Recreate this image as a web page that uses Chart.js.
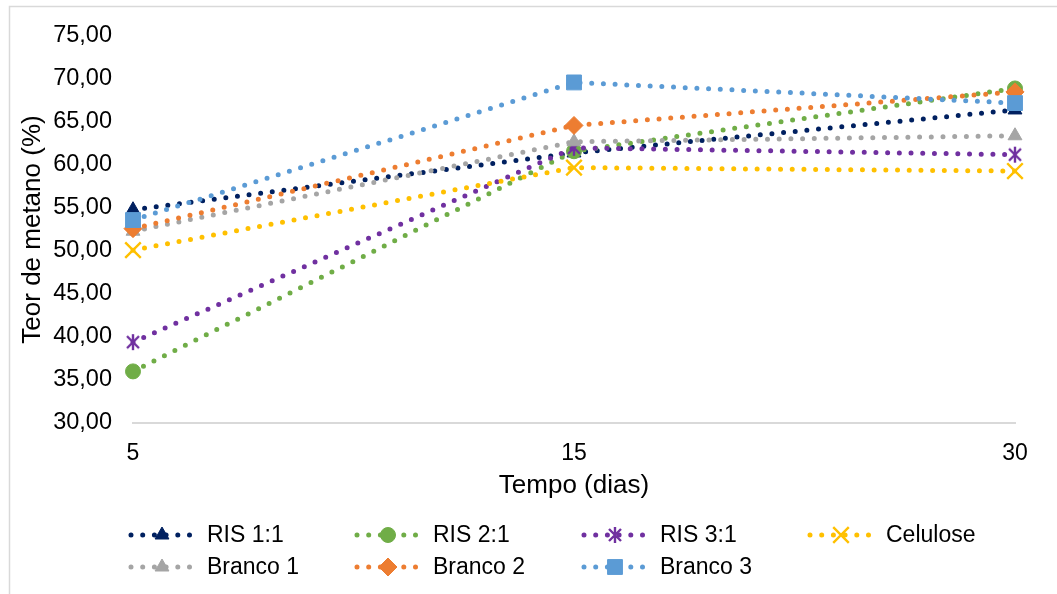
<!DOCTYPE html>
<html>
<head>
<meta charset="utf-8">
<script src="https://cdn.jsdelivr.net/npm/chart.js@4/dist/chart.umd.min.js"></script>
<style>
  html, body { margin: 0; padding: 0; background: #fff; }
  #wrap { width: 1057px; height: 594px; position: relative; }
</style>
</head>
<body>
<div id="wrap"><canvas id="c" width="1057" height="594"></canvas></div>
<script>
// ---- data ----
const categories = ['5', '15', '30'];
const seriesNames = ['RIS 1:1', 'RIS 2:1', 'RIS 3:1', 'Celulose', 'Branco 1', 'Branco 2', 'Branco 3'];
const ris11 = [54.8, 61.4, 66.4];
const ris21 = [36.0, 61.6, 68.9];
const ris31 = [39.4, 62.0, 61.2];
const celulose = [50.1, 59.7, 59.3];
const branco1 = [52.3, 62.7, 63.4];
const branco2 = [52.6, 64.6, 68.5];
const branco3 = [53.6, 69.6, 67.2];
const yTitle = 'Teor de metano (%)';
const xTitle = 'Tempo (dias)';

// ---- styles ----
const FONT = '"Liberation Sans", Arial, sans-serif';
function asteriskImage(color) {
  const c = document.createElement('canvas');
  c.width = 18; c.height = 18;
  const g = c.getContext('2d');
  g.strokeStyle = color; g.lineWidth = 2.4; g.lineCap = 'butt';
  g.beginPath();
  g.moveTo(9, 1); g.lineTo(9, 17);
  g.moveTo(3, 3); g.lineTo(15, 15);
  g.moveTo(15, 3); g.lineTo(3, 15);
  g.stroke();
  return c;
}
const styles = [
  { color: '#002060', pointStyle: 'triangle', radius: 8, pbw: 1 },
  { color: '#70AD47', pointStyle: 'circle', radius: 7.5, pbw: 1 },
  { color: '#7030A0', pointStyle: asteriskImage('#7030A0'), radius: 9, pbw: 1 },
  { color: '#FFC000', pointStyle: 'crossRot', radius: 11, pbw: 2.4 },
  { color: '#A5A5A5', pointStyle: 'triangle', radius: 8, pbw: 1 },
  { color: '#ED7D31', pointStyle: 'rectRot', radius: 9, pbw: 1 },
  { color: '#5B9BD5', pointStyle: 'rect', radius: 10.5, pbw: 1 }
];
const values = [ris11, ris21, ris31, celulose, branco1, branco2, branco3];

const datasets = seriesNames.map((name, i) => ({
  label: name,
  data: values[i],
  borderColor: styles[i].color,
  backgroundColor: styles[i].color,
  borderWidth: 5,
  borderDash: [0, 11.7],
  borderCapStyle: 'round',
  tension: 0,
  pointStyle: styles[i].pointStyle,
  pointRadius: styles[i].radius,
  pointHoverRadius: styles[i].radius,
  pointBorderWidth: styles[i].pbw,
  pointBackgroundColor: styles[i].color,
  pointBorderColor: styles[i].color,
  order: 10 - i
}));

// legend layout (columns / rows)
const legendCols = [129, 355, 582, 808];
const legendRows = [535, 567];

const customLegend = {
  id: 'customLegend',
  beforeDraw(chart) {
    const ctx = chart.ctx;
    ctx.save();
    ctx.fillStyle = '#fff';
    ctx.fillRect(0, 0, chart.width, chart.height);
    ctx.strokeStyle = '#D9D9D9';
    ctx.lineWidth = 1.5;
    ctx.strokeRect(9.5, 6.5, chart.width + 20, chart.height + 20);
    ctx.restore();
  },
  afterDraw(chart) {
    const ctx = chart.ctx;
    ctx.save();
    chart.data.datasets.forEach((ds, i) => {
      const col = i % 4, row = Math.floor(i / 4);
      const x0 = legendCols[col];
      const y = legendRows[row];
      ctx.save();
      ctx.strokeStyle = ds.borderColor;
      ctx.lineWidth = 5;
      ctx.lineCap = 'round';
      ctx.setLineDash([0, 11.7]);
      ctx.beginPath();
      ctx.moveTo(x0 + 2, y);
      ctx.lineTo(x0 + 66, y);
      ctx.stroke();
      ctx.restore();
      ctx.save();
      ctx.fillStyle = ds.pointBackgroundColor;
      ctx.strokeStyle = ds.pointBorderColor;
      ctx.lineWidth = ds.pointBorderWidth;
      Chart.helpers.drawPoint(ctx, {
        pointStyle: ds.pointStyle,
        radius: ds.pointRadius,
        borderWidth: ds.pointBorderWidth,
        rotation: 0
      }, x0 + 33, y);
      ctx.restore();
      ctx.fillStyle = '#000';
      ctx.font = '23px ' + FONT;
      ctx.textBaseline = 'middle';
      ctx.textAlign = 'left';
      ctx.fillText(ds.label, x0 + 78, y + 1);
    });
    ctx.restore();
  }
};

new Chart(document.getElementById('c'), {
  type: 'line',
  data: { labels: categories, datasets },
  options: {
    responsive: false,
    animation: false,
    events: [],
    layout: { padding: { left: 0, right: 42, top: 36, bottom: 86 } },
    plugins: { legend: { display: false }, tooltip: { enabled: false } },
    scales: {
      x: {
        type: 'category',
        offset: false,
        grid: { display: false, drawTicks: false },
        border: { display: true, color: '#D9D9D9', width: 2 },
        ticks: { color: '#000', font: { family: FONT, size: 23 }, padding: 17, maxRotation: 0 },
        title: { display: true, text: xTitle, color: '#000', font: { family: FONT, size: 26 }, padding: { top: 0, bottom: 7 } },
        afterFit(scale) { scale.height = 85; }
      },
      y: {
        min: 30, max: 75,
        grid: { display: false, drawTicks: false },
        border: { display: false },
        ticks: {
          stepSize: 5,
          color: '#000',
          font: { family: FONT, size: 23.5 },
          padding: 21,
          callback: v => v.toFixed(2).replace('.', ',')
        },
        title: { display: true, text: yTitle, color: '#000', font: { family: FONT, size: 26 }, padding: { top: 17, bottom: 0 } },
        afterFit(scale) { scale.width = 133; }
      }
    }
  },
  plugins: [customLegend]
});
</script>
</body>
</html>
